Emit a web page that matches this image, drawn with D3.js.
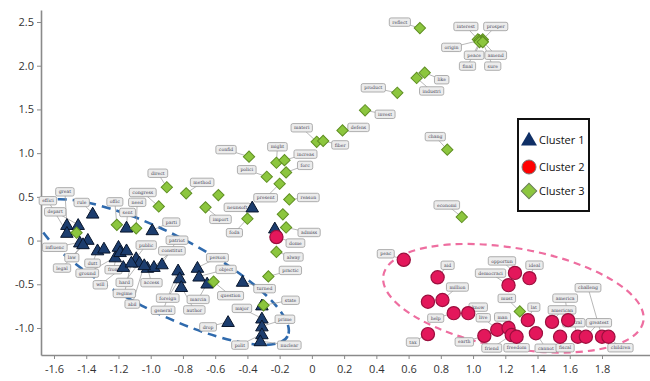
<!DOCTYPE html>
<html><head><meta charset="utf-8">
<script src="https://cdn.jsdelivr.net/npm/d3@7/dist/d3.min.js"></script>
<style>body{margin:0;background:#fff}svg{display:block}</style>
</head><body>
<svg id="chart" width="650" height="381"></svg>
<script>
// ---------- DATA ----------
const cluster1 = [
  ["rule",-1.36,0.31],["great",-1.52,0.18],["depart",-1.45,0.18],["effici",-1.52,0.09],
  ["influenc",-1.44,-0.02],["law",-1.39,0.01],["legal",-1.42,-0.04],["dutt",-1.33,-0.11],
  ["from",-1.20,-0.07],["ground",-1.22,-0.19],["land",-1.19,-0.13],["sent",-1.15,0.15],
  ["parti",-0.99,0.12],["will",-1.17,-0.30],["public",-1.09,-0.20],["hard",-1.07,-0.25],
  ["access",-1.02,-0.31],["constitut",-0.98,-0.30],["patriot",-0.93,-0.27],["regime",-1.12,-0.25],
  ["abil",-1.04,-0.28],["citi",-1.15,-0.11],["general",-0.83,-0.34],["foreign",-0.82,-0.43],
  ["author",-0.81,-0.53],["person",-0.71,-0.31],["object",-0.70,-0.41],["marcia",-0.65,-0.49],
  ["turned",-0.43,-0.47],["neunsoft",-0.37,0.38],["tension",-0.23,0.14],["drop",-0.52,-0.93],
  ["event",-0.31,-0.74],["major",-0.31,-0.89],["prime",-0.31,-0.98],["polit",-0.31,-1.07],
  ["nuclear",-0.32,-1.15],["role",-1.29,-0.09]
];
const cluster2 = [
  ["peac",0.57,-0.22],["aid",0.78,-0.42],["hope",0.72,-0.70],["million",0.81,-0.68],
  ["help",0.88,-0.83],["know",0.97,-0.83],["tax",0.72,-1.07],["opportun",1.26,-0.37],
  ["ideal",1.35,-0.43],["democraci",1.22,-0.51],["lat",1.34,-0.91],["earth",1.07,-1.09],
  ["live",1.15,-1.02],["man",1.22,-1.00],["friend",1.24,-1.08],["freedom",1.27,-1.10],
  ["cannot",1.39,-1.06],["american",1.49,-0.93],["america",1.59,-0.91],["fiscal",1.54,-1.10],
  ["central",1.65,-1.10],["greatest",1.70,-1.10],["challeng",1.80,-1.10],["children",1.84,-1.10],
  ["dome",-0.22,0.04]
];
const cluster3 = [
  ["reflect",0.67,2.43],["interest",1.03,2.30],["prosper",1.06,2.30],["origin",1.04,2.29],
  ["peace",1.05,2.28],["amend",1.06,2.28],["final",1.04,2.27],["sure",1.06,2.27],
  ["industri",0.65,1.86],["like",0.70,1.92],["product",0.53,1.69],["invest",0.33,1.49],
  ["defens",0.19,1.26],["materi",0.03,1.13],["fiber",0.07,1.14],["chang",0.84,1.04],
  ["economi",0.93,0.27],["confid",-0.39,0.96],["might",-0.22,0.89],["increas",-0.17,0.92],
  ["polici",-0.28,0.73],["forc",-0.16,0.78],["present",-0.20,0.65],["reason",-0.14,0.47],
  ["direct",-0.90,0.61],["method",-0.78,0.54],["conduct",-0.58,0.52],["congress",-0.95,0.39],
  ["import",-0.66,0.38],["offic",-1.21,0.18],["need",-1.09,0.14],["respons",-1.46,0.09],
  ["foda",-0.40,0.25],["season",-0.18,0.30],["admiss",-0.16,0.15],["alway",-0.22,-0.13],
  ["practic",-0.27,-0.41],["state",-0.30,-0.74],["question",-0.61,-0.47],["must",1.29,-0.81]
];
const xTicks = [-1.6,-1.4,-1.2,-1.0,-0.8,-0.6,-0.4,-0.2,0,0.2,0.4,0.6,0.8,1.0,1.2,1.4,1.6,1.8];
const yTicks = [-1.0,-0.5,0,0.5,1.0,1.5,2.0,2.5];
const legendLabels = ["Cluster 1","Cluster 2","Cluster 3"];
// cluster outlines (data-space centres)
const outlineCentres = [[-0.93,-0.36],[1.25,-0.66]];

// ---------- LAYOUT (label box offsets in px) ----------
const labelOffset = {
  rule:[-11,-11],great:[-2,-33],depart:[-23,-13],effici:[-19,-32],influenc:[-25,5],law:[-16,18],
  legal:[-21,24],dutt:[-5,13],from:[-5,23],ground:[-28,16],sent:[1,-15],parti:[19,-8],will:[-23,18],
  public:[10,-13],hard:[-15,20],access:[4,15],constitut:[18,-16],patriot:[15,-24],regime:[-7,31],
  abil:[-12,39],general:[-15,40],foreign:[-12,20],author:[13,23],person:[20,-10],object:[27,-7],
  marcia:[-9,16],turned:[22,7],neunsoft:[-15,0],drop:[-20,5],major:[-20,-10],prime:[23,-7],
  polit:[-22,11],nuclear:[29,4],
  peac:[-18,-6],aid:[10,-12],million:[15,-13],help:[-18,5],know:[10,-6],tax:[-15,8],opportun:[-13,-12],
  ideal:[5,-13],democraci:[-18,-12],lat:[6,-13],earth:[-20,6],live:[-14,-12],man:[-6,-11],
  friend:[-20,13],freedom:[0,11],cannot:[10,15],american:[10,-12],america:[-3,-22],fiscal:[5,11],
  central:[-4,-14],greatest:[13,-14],challeng:[-14,-49],children:[12,11],dome:[19,6],
  reflect:[-20,-6],interest:[-12,-13],prosper:[13,-13],origin:[-28,7],peace:[-7,14],amend:[13,14],
  final:[-12,24],sure:[10,24],industri:[15,13],like:[17,7],product:[-24,-5],invest:[20,4],
  defens:[16,-3],materi:[-15,-14],fiber:[17,4],chang:[-12,-13],economi:[-15,-12],confid:[-23,-7],
  might:[1,-16],increas:[21,-6],polici:[-20,-7],forc:[19,-7],present:[-14,14],reason:[19,-2],
  direct:[-9,-14],method:[16,-11],congress:[-16,-14],import:[15,12],offic:[-2,-23],need:[1,-26],
  foda:[-13,14],admiss:[23,5],alway:[17,5],practic:[22,-6],state:[27,-5],question:[17,14],must:[-13,-13]
};

// ---------- CHART ----------
const svg = d3.select("#chart");
const x = d3.scaleLinear().domain([-1.6,1.8]).range([54,602]);
const y = d3.scaleLinear().domain([-1.0,2.5]).range([328,22]);
const pLeft = 41, pBottom = 355, pTop = 10, pRight = 650;
const xAx = x.copy().domain([x.invert(pLeft), x.invert(pRight)]).range([pLeft,pRight]);
const yAx = y.copy().domain([y.invert(pBottom), y.invert(pTop)]).range([pBottom,pTop]);
const fmt = d => d === 0 ? "0" : d.toFixed(1);

const gx = svg.append("g").attr("transform",`translate(0,${pBottom})`)
  .call(d3.axisBottom(xAx).tickValues(xTicks).tickFormat(fmt).tickSizeInner(4).tickSizeOuter(0).tickPadding(6));
const gy = svg.append("g").attr("transform",`translate(${pLeft},0)`)
  .call(d3.axisLeft(yAx).tickValues(yTicks).tickFormat(fmt).tickSizeInner(4).tickSizeOuter(0).tickPadding(3));
[gx,gy].forEach(g=>{
  g.select(".domain").attr("stroke","#8a8a8a").attr("stroke-width",1.6);
  g.selectAll(".tick line").attr("stroke","#8a8a8a");
  g.selectAll(".tick text").attr("fill","#333").style("font-family","'Open Sans', 'DejaVu Sans', sans-serif").style("font-size","11px");
});

// clip for outlines
svg.append("clipPath").attr("id","plotclip").append("rect")
  .attr("x",pLeft+1).attr("y",pTop).attr("width",pRight-pLeft).attr("height",pBottom-pTop-1);

const outlines = svg.append("g").attr("clip-path","url(#plotclip)");
outlines.append("ellipse")
  .attr("transform",`translate(${x(outlineCentres[0][0])},${y(outlineCentres[0][1])}) rotate(27)`)
  .attr("rx",141).attr("ry",39).attr("fill","none")
  .attr("stroke","#2f6aad").attr("stroke-width",2.6).attr("stroke-dasharray","9,6");
outlines.append("ellipse")
  .attr("transform",`translate(${x(outlineCentres[1][0])},${y(outlineCentres[1][1])}) rotate(10)`)
  .attr("rx",132).attr("ry",50).attr("fill","none")
  .attr("stroke","#ee6ea0").attr("stroke-width",2.2).attr("stroke-dasharray","7,5");

const all = [
  ...cluster1.map(d=>({w:d[0],x:d[1],y:d[2],c:1})),
  ...cluster2.map(d=>({w:d[0],x:d[1],y:d[2],c:2})),
  ...cluster3.map(d=>({w:d[0],x:d[1],y:d[2],c:3}))
];

// labels (leader lines + boxes)
const labeled = all.filter(d=>labelOffset[d.w]);
const lab = svg.append("g");
lab.selectAll("line").data(labeled).join("line")
  .attr("x1",d=>x(d.x)).attr("y1",d=>y(d.y))
  .attr("x2",d=>x(d.x)+labelOffset[d.w][0]).attr("y2",d=>y(d.y)+labelOffset[d.w][1])
  .attr("stroke","#9a9a9a").attr("stroke-width",0.7);
const lg = lab.selectAll("g.lb").data(labeled).join("g").attr("class","lb")
  .attr("transform",d=>`translate(${x(d.x)+labelOffset[d.w][0]},${y(d.y)+labelOffset[d.w][1]})`);
const rects = lg.append("rect").attr("fill","#ececec").attr("stroke","#9c9c9c").attr("stroke-width",0.8).attr("rx",1.8);
const texts = lg.append("text").text(d=>d.w).attr("text-anchor","middle").attr("dy","0.35em")
  .style("font-family","'DejaVu Serif', serif").style("font-size","4.6px").attr("fill","#445");
texts.each(function(){
  const w = this.getComputedTextLength() + 6;
  d3.select(this.parentNode).select("rect").attr("x",-w/2).attr("y",-4.2).attr("width",w).attr("height",8.4);
});

// markers
const tri = d3.symbol().type(d3.symbolTriangle).size(68)();
const dia = d3.symbol().type(d3.symbolSquare).size(64)();
const marks = svg.append("g");
marks.selectAll("path.c1").data(all.filter(d=>d.c===1)).join("path").attr("class","c1")
  .attr("d",tri).attr("transform",d=>`translate(${x(d.x)},${y(d.y)+1})`)
  .attr("fill","#1c3d6e").attr("stroke","#08152b").attr("stroke-width",1);
marks.selectAll("circle").data(all.filter(d=>d.c===2)).join("circle")
  .attr("cx",d=>x(d.x)).attr("cy",d=>y(d.y)).attr("r",6.6)
  .attr("fill","#e3175b").attr("stroke","#9b0f3e").attr("stroke-width",1.2);
marks.selectAll("path.c3").data(all.filter(d=>d.c===3)).join("path").attr("class","c3")
  .attr("d",dia).attr("transform",d=>`translate(${x(d.x)},${y(d.y)}) rotate(45)`)
  .attr("fill","#8cc63e").attr("stroke","#5f8f22").attr("stroke-width",1);

// legend
const leg = svg.append("g").attr("transform","translate(518,119)");
leg.append("rect").attr("width",71).attr("height",92).attr("fill","#fff").attr("stroke","#111").attr("stroke-width",2);
const ly = [21,48,72];
leg.append("path").attr("d",d3.symbol().type(d3.symbolTriangle).size(110)()).attr("transform",`translate(11,${ly[0]+1})`).attr("fill","#0f2f66");
leg.append("circle").attr("cx",11).attr("cy",ly[1]).attr("r",7).attr("fill","#ff0000").attr("stroke","#777");
leg.append("path").attr("d",d3.symbol().type(d3.symbolSquare).size(120)()).attr("transform",`translate(11,${ly[2]}) rotate(45)`).attr("fill","#8cc63e").attr("stroke","#6b7f5a");
leg.selectAll("text").data(legendLabels).join("text").text(d=>d)
  .attr("x",21).attr("y",(d,i)=>ly[i]).attr("dy","0.35em")
  .style("font-family","'Open Sans', 'DejaVu Sans', sans-serif").style("font-size","11px").attr("fill","#111");
</script>
</body></html>
